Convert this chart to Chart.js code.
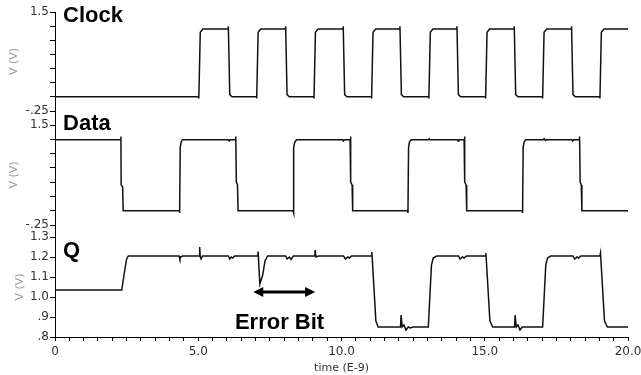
<!DOCTYPE html>
<html>
<head>
<meta charset="utf-8">
<script src="https://cdn.jsdelivr.net/npm/chart.js@4"></script>
<style>
  body { margin: 0; background: #fff; }
  canvas { display: block; }
</style>
</head>
<body>
<canvas id="waveChart" width="641" height="375"></canvas>
<script>
// clock waveform (time in ns, volts)
const clockT = [0, 5.02, 5.02, 5.07, 5.16, 6.05, 6.05, 6.10, 6.18, 7.04, 7.04, 7.09, 7.18,
  8.05, 8.05, 8.10, 8.18, 9.04, 9.04, 9.09, 9.18, 10.06, 10.06, 10.11, 10.19,
  11.05, 11.05, 11.10, 11.19, 12.04, 12.04, 12.09, 12.17, 13.05, 13.05, 13.10, 13.19,
  14.03, 14.03, 14.08, 14.16, 15.03, 15.03, 15.08, 15.17, 16.03, 16.03, 16.08, 16.16,
  17.02, 17.02, 17.07, 17.16, 18.03, 18.03, 18.08, 18.16, 19.02, 19.02, 19.07, 19.16, 20.0];
const clockV = [0, 0, -0.03, 1.14, 1.2, 1.2, 1.25, 0.04, 0, 0, -0.03, 1.14, 1.2,
  1.2, 1.25, 0.04, 0, 0, -0.03, 1.14, 1.2, 1.2, 1.25, 0.04, 0,
  0, -0.03, 1.14, 1.2, 1.2, 1.25, 0.04, 0, 0, -0.03, 1.14, 1.2,
  1.2, 1.25, 0.04, 0, 0, -0.03, 1.14, 1.2, 1.2, 1.25, 0.04, 0,
  0, -0.03, 1.14, 1.2, 1.2, 1.25, 0.04, 0, 0, -0.03, 1.14, 1.2, 1.2];

// data input waveform
const dataT = [0, 2.28, 2.30, 2.31, 2.36, 2.38, 4.34, 4.35, 4.37, 4.40, 4.45,
  6.05, 6.08, 6.11, 6.30, 6.31, 6.33, 6.37, 6.39, 8.31, 8.32, 8.34, 8.37, 8.43,
  10.03, 10.06, 10.09, 10.30, 10.31, 10.33, 10.37, 10.39, 12.31, 12.32, 12.34, 12.37, 12.43,
  13.03, 13.06, 13.09, 14.04, 14.07, 14.10, 14.28, 14.29, 14.31, 14.35, 14.37,
  16.31, 16.32, 16.34, 16.37, 16.43, 17.04, 17.07, 17.10, 18.04, 18.07, 18.10,
  18.30, 18.31, 18.33, 18.37, 18.39, 20.0];
const dataV = [1.24, 1.24, 1.3, 0.45, 0.42, 0, 0, -0.04, 1.1, 1.2, 1.24,
  1.24, 1.22, 1.24, 1.24, 1.3, 0.5, 0.45, 0, 0, -0.04, 1.1, 1.2, 1.24,
  1.24, 1.22, 1.24, 1.24, 1.3, 0.5, 0.45, 0, 0, -0.04, 1.1, 1.2, 1.24,
  1.24, 1.26, 1.24, 1.24, 1.22, 1.24, 1.24, 1.3, 0.5, 0.45, 0,
  0, -0.04, 1.1, 1.2, 1.24, 1.24, 1.26, 1.24, 1.24, 1.22, 1.24,
  1.24, 1.3, 0.5, 0.45, 0, 0];

// latch output Q
const qT = [0, 2.33, 2.42, 2.50, 2.56, 4.33, 4.36, 4.39, 4.45, 5.03, 5.05, 5.07, 5.10, 5.15,
  6.05, 6.10, 6.15, 6.20, 6.27, 7.08, 7.09, 7.15, 7.25, 7.33, 7.42,
  8.05, 8.10, 8.18, 8.24, 8.32, 9.07, 9.08, 9.11, 9.20,
  10.07, 10.14, 10.22, 10.28, 10.35, 11.05, 11.06, 11.20, 11.28,
  12.06, 12.08, 12.12, 12.18, 12.25, 12.33, 12.40, 12.50, 13.03, 13.14, 13.20, 13.32,
  14.08, 14.14, 14.22, 14.28, 14.36, 15.03, 15.04, 15.18, 15.28,
  16.04, 16.06, 16.10, 16.16, 16.23, 16.31, 17.02, 17.13, 17.19, 17.30,
  18.08, 18.14, 18.22, 18.28, 18.35, 19.02, 19.04, 19.18, 19.28, 20.0];
const qV = [1.035, 1.035, 1.12, 1.19, 1.205, 1.205, 1.19, 1.2, 1.205, 1.205, 1.25, 1.2, 1.19, 1.205,
  1.205, 1.19, 1.2, 1.195, 1.205, 1.205, 1.227, 1.065, 1.11, 1.18, 1.205,
  1.205, 1.19, 1.2, 1.188, 1.205, 1.205, 1.235, 1.2, 1.205,
  1.205, 1.19, 1.2, 1.195, 1.205, 1.205, 1.225, 0.88, 0.85,
  0.85, 0.91, 0.85, 0.86, 0.835, 0.85, 0.845, 0.85, 0.85, 1.16, 1.195, 1.205,
  1.205, 1.19, 1.2, 1.195, 1.205, 1.205, 1.22, 0.88, 0.85,
  0.85, 0.91, 0.85, 0.86, 0.835, 0.85, 0.85, 1.16, 1.195, 1.205,
  1.205, 1.19, 1.2, 1.195, 1.205, 1.205, 1.22, 0.88, 0.85, 0.85];

const xTickLabels = ["0", "5.0", "10.0", "15.0", "20.0"];
const clockTickLabels = ["1.5", "-.25"];
const qTickLabels = [".8", ".9", "1.0", "1.1", "1.2", "1.3"];

function toPoints(ts, vs) {
    return ts.map((t, i) => ({ x: t, y: vs[i] }));
}

const tickFont = { family: "DejaVu Sans", size: 12 };
const tickColor = "#333";

function fixWidth(scale) {
    scale.width = 55;
}

function voltAxis(weight) {
    return {
        type: "linear",
        position: "left",
        stack: "v",
        stackWeight: weight,
        min: -0.25,
        max: 1.5,
        afterFit: fixWidth,
        border: { color: "#000", width: 1 },
        grid: { drawOnChartArea: false, color: "#000", tickLength: 5 },
        ticks: {
            stepSize: 0.25,
            autoSkip: false,
            font: tickFont,
            color: tickColor,
            padding: 1,
            callback: (v) => {
                if (Math.abs(v - 1.5) < 1e-6) return clockTickLabels[0];
                if (Math.abs(v + 0.25) < 1e-6) return clockTickLabels[1];
                return "";
            }
        }
    };
}

function spacerAxis(weight) {
    return {
        type: "linear",
        position: "left",
        stack: "v",
        stackWeight: weight,
        min: 0,
        max: 1,
        afterFit: fixWidth,
        border: { color: "#000", width: 1 },
        grid: { display: false },
        ticks: { display: false }
    };
}

const labelPlugin = {
    id: "labels",
    afterDraw(chart) {
        const ctx = chart.ctx;
        const x = chart.scales.x;
        const yC = chart.scales.yClock;
        const yD = chart.scales.yData;
        const yQ = chart.scales.yQ;

        ctx.save();
        ctx.fillStyle = "#000";
        ctx.font = "bold 22px 'Liberation Sans', Arial";
        ctx.textAlign = "left";
        ctx.textBaseline = "alphabetic";
        ctx.fillText("Clock", x.getPixelForValue(0.28), yC.getPixelForValue(1.32));
        ctx.fillText("Data", x.getPixelForValue(0.28), yD.getPixelForValue(1.41));
        ctx.fillText("Q", x.getPixelForValue(0.28), yQ.getPixelForValue(1.2));
        ctx.fillText("Error Bit", x.getPixelForValue(6.28), yQ.getPixelForValue(0.84));

        // double headed arrow
        const ax1 = x.getPixelForValue(6.92);
        const ax2 = x.getPixelForValue(9.08);
        const ay = yQ.getPixelForValue(1.025);
        ctx.strokeStyle = "#000";
        ctx.lineWidth = 3;
        ctx.beginPath();
        ctx.moveTo(ax1 + 6, ay);
        ctx.lineTo(ax2 - 6, ay);
        ctx.stroke();
        ctx.beginPath();
        ctx.moveTo(ax1, ay);
        ctx.lineTo(ax1 + 10, ay - 5);
        ctx.lineTo(ax1 + 10, ay + 5);
        ctx.closePath();
        ctx.fill();
        ctx.beginPath();
        ctx.moveTo(ax2, ay);
        ctx.lineTo(ax2 - 10, ay - 5);
        ctx.lineTo(ax2 - 10, ay + 5);
        ctx.closePath();
        ctx.fill();

        // axis titles
        ctx.fillStyle = "#999";
        ctx.font = "11px 'DejaVu Sans'";
        ctx.textAlign = "center";
        ctx.textBaseline = "middle";
        [[yC, 14], [yD, 14], [yQ, 20]].forEach(([s, px]) => {
            ctx.save();
            ctx.translate(px, (s.top + s.bottom) / 2);
            ctx.rotate(-Math.PI / 2);
            ctx.fillText("V (V)", 0, 0);
            ctx.restore();
        });
        ctx.restore();
    }
};

const lineStyle = {
    borderColor: "#111",
    borderWidth: 1.5,
    pointRadius: 0,
    tension: 0,
    fill: false
};

new Chart("waveChart", {
    type: "line",
    data: {
        datasets: [
            { label: "Clock", data: toPoints(clockT, clockV), yAxisID: "yClock", ...lineStyle },
            { label: "Data", data: toPoints(dataT, dataV), yAxisID: "yData", ...lineStyle },
            { label: "Q", data: toPoints(qT, qV), yAxisID: "yQ", ...lineStyle }
        ]
    },
    options: {
        responsive: false,
        animation: false,
        layout: { padding: { top: 12, right: 13, left: 0, bottom: 0 } },
        plugins: {
            legend: { display: false },
            tooltip: { enabled: false }
        },
        scales: {
            x: {
                type: "linear",
                min: 0,
                max: 20,
                afterFit: (scale) => {
                    scale.height = 38;
                    scale.paddingRight = 0;
                    scale.paddingLeft = 0;
                },
                border: { color: "#000", width: 1 },
                grid: { drawOnChartArea: false, color: "#000", tickLength: 4 },
                ticks: {
                    stepSize: 0.5,
                    autoSkip: false,
                    maxRotation: 0,
                    font: tickFont,
                    color: tickColor,
                    padding: 4,
                    callback: (v) => {
                        const i = [0, 5, 10, 15, 20].indexOf(v);
                        return i >= 0 ? xTickLabels[i] : "";
                    }
                },
                title: {
                    display: true,
                    text: "time (E-9)",
                    font: { family: "DejaVu Sans", size: 11 },
                    color: tickColor,
                    padding: 0
                }
            },
            // left stack: last one defined sits on top
            yQ: {
                type: "linear",
                position: "left",
                stack: "v",
                stackWeight: 100,
                min: 0.8,
                max: 1.3,
                afterFit: fixWidth,
                border: { color: "#000", width: 1 },
                grid: { drawOnChartArea: false, color: "#000", tickLength: 5 },
                ticks: {
                    stepSize: 0.1,
                    autoSkip: false,
                    font: tickFont,
                    color: tickColor,
                    padding: 1,
                    callback: (v) => {
                        const i = Math.round((v - 0.8) * 10);
                        return qTickLabels[i] || "";
                    }
                }
            },
            gap2: spacerAxis(12),
            yData: voltAxis(100),
            gap1: spacerAxis(14),
            yClock: voltAxis(99)
        }
    },
    plugins: [labelPlugin]
});
</script>
</body>
</html>
